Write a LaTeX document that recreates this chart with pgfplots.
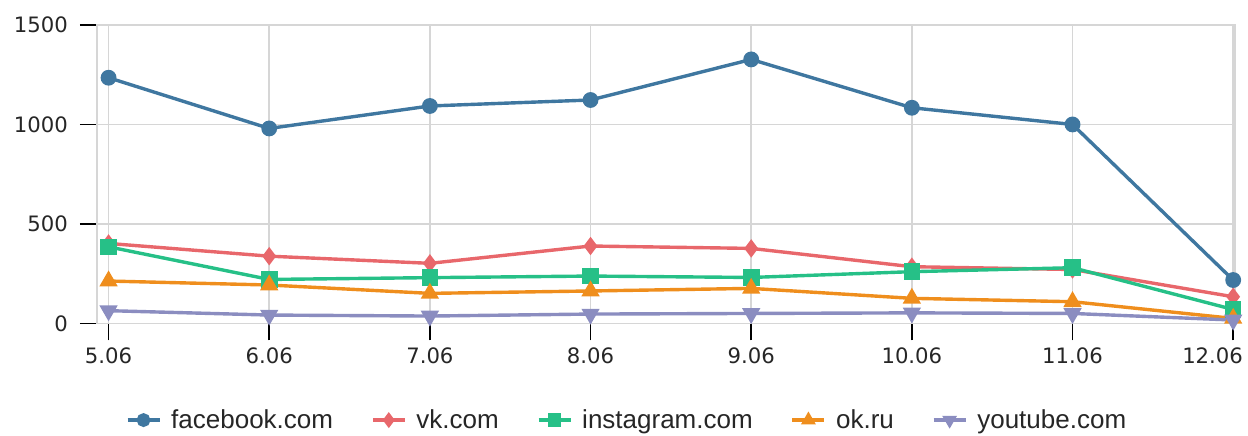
\documentclass[border=0pt]{standalone}
\usepackage{pgfplots}
\pgfplotsset{compat=1.18}
\usepackage{fontspec}
\setmainfont{DejaVu Sans}
\newfontfamily\legfont{Liberation Sans}
\definecolor{cfb}{HTML}{3F77A0}
\definecolor{cvk}{HTML}{E8676B}
\definecolor{cig}{HTML}{26C087}
\definecolor{cok}{HTML}{EF8E1D}
\definecolor{cyt}{HTML}{8B8DC0}
\definecolor{gridgray}{HTML}{D6D6D6}
\definecolor{txt}{HTML}{262626}
\begin{document}
\begin{tikzpicture}
\path[use as bounding box] (-48.5pt,-55.8pt) rectangle (575.5pt,161.7pt);
\begin{axis}[
  at={(0,0)}, anchor=south west,
  scale only axis, width=568.9pt, height=149.2pt,
  xmin=-0.072, xmax=7.01, ymin=0, ymax=1500,
  xtick={0,1,2,3,4,5,6,7},
  xticklabels={5.06,6.06,7.06,8.06,9.06,10.06,11.06,{\hspace*{-20.6pt}12.06}},
  ytick={0,500,1000,1500},
  grid=major,
  major grid style={draw=gridgray, line width=0.8pt},
  axis line style={draw=gridgray, line width=0.8pt},
  tick align=outside, xtick pos=lower, ytick pos=left,
  major tick length=8.5pt,
  tick style={black, line width=0.8pt},
  /pgf/number format/assume math mode=true,
  /pgf/number format/1000 sep={},
  tick label style={font=\fontsize{10.6}{12}\selectfont, text=txt},
  yticklabel style={xshift=-2.5pt},
  scaled y ticks=false,
  clip=false,
  every axis plot/.append style={line width=1.7pt},
  legend columns=5,
  legend style={at={(axis description cs:0.4667,-0.324)}, anchor=center, draw=none, fill=none,
    font=\legfont\fontsize{13}{15}\selectfont, text=txt,
    /tikz/every odd column/.append style={column sep=3pt},
    /tikz/every even column/.append style={column sep=17pt}},
  legend image code/.code={\draw[#1, mark repeat=2, mark phase=2, mark size=2.6pt] plot coordinates {(0pt,0pt)(8pt,0pt)(16pt,0pt)};},
]
\addplot[cfb, mark=*, mark size=3.1pt, mark options={fill=cfb, draw=cfb}] coordinates {
 (0,1235) (1,980) (2,1093) (3,1123) (4,1327) (5,1084) (6,1000) (7,218)};
\addlegendentry{facebook.com}
\addplot[cvk, mark=diamond*, mark size=3.2pt, mark options={fill=cvk, draw=cvk}] coordinates {
 (0,402) (1,338) (2,302) (3,389) (4,377) (5,285) (6,271) (7,134)};
\addlegendentry{vk.com}
\addplot[cig, mark=square*, mark size=3.3pt, mark options={fill=cig, draw=cig}] coordinates {
 (0,385) (1,221) (2,230) (3,238) (4,231) (5,260) (6,280) (7,70)};
\addlegendentry{instagram.com}
\addplot[cok, mark=triangle*, mark size=3.6pt, mark options={fill=cok, draw=cok}] coordinates {
 (0,213) (1,193) (2,151) (3,163) (4,176) (5,126) (6,109) (7,25)};
\addlegendentry{ok.ru}
\addplot[cyt, mark=triangle*, mark size=3.6pt, mark options={fill=cyt, draw=cyt, rotate=180}] coordinates {
 (0,64) (1,42) (2,37) (3,47) (4,50) (5,53) (6,50) (7,17)};
\addlegendentry{youtube.com}
\end{axis}
\end{tikzpicture}
\end{document}
